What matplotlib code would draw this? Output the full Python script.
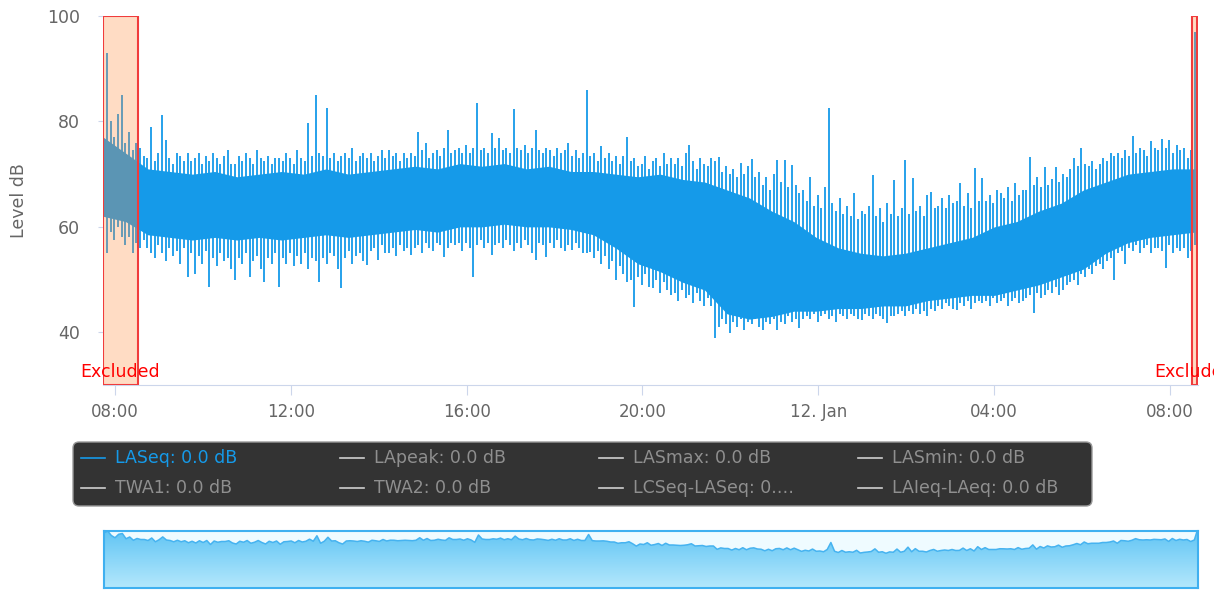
import numpy as np
import pandas as pd
import matplotlib
matplotlib.use("Agg")
import matplotlib.pyplot as plt
import matplotlib.dates as mdates
from matplotlib.patches import FancyBboxPatch
from matplotlib.colors import LinearSegmentedColormap
from matplotlib.transforms import Bbox

# LASeq extremes, one pair every 5 min starting 11 Jan 07:44 (one row = 1 hour)
t_start = "2024-01-11 07:44"
lev_hi = [86, 93, 80, 77, 81.5, 85, 76, 78, 74.5, 76, 75, 73.5,
          73, 79, 72.5, 74, 81.2, 76.5, 73, 72, 74, 73.5, 72.5, 74,
          72.5, 73, 74, 72, 73.5, 72.5, 74, 73, 72, 73.5, 74.5, 72,
          72, 73.5, 72.5, 74, 73, 72, 74.5, 73, 72.5, 73.5, 72, 73,
          73, 72.5, 74, 73, 72, 74.5, 73, 72.5, 79.7, 73.5, 85, 74,
          73.5, 82.5, 73, 74, 72.5, 73.5, 74, 73, 75, 72.5, 73.5, 74,
          73, 74, 72.5, 73.5, 74.5, 73, 74.6, 73.5, 74, 72.5, 74, 73,
          74, 73.5, 78, 74.5, 76, 73, 74, 74.5, 73.5, 75, 78.4, 74,
          74.5, 75, 74, 75.5, 74, 75, 83.5, 74.5, 75, 74, 77.8, 75,
          76.8, 74.5, 75, 74, 82.3, 75, 74.5, 75.5, 74, 75, 78.4, 74.5,
          74, 75, 74.5, 73.5, 75, 74, 74.5, 76, 73.5, 74.5, 73, 74,
          86, 73.5, 74, 72.5, 75.3, 73, 74, 72.5, 73.4, 72, 73.5, 77,
          72.5, 73, 71.5, 72, 73.5, 71, 72.5, 73, 71.5, 74, 72, 73,
          72, 73, 71.5, 74, 75.5, 72.5, 71, 73, 72, 71.5, 73, 72.5,
          73.2, 70.5, 71.5, 70, 71, 69.5, 72.1, 70, 71.5, 72.8, 69.5, 70.5,
          68, 69.5, 67, 70, 72.7, 68.5, 72.7, 67.5, 71.7, 68, 66.5, 67,
          65, 69.4, 64, 66, 63.5, 67.5, 82.5, 64.5, 63, 65.5, 62.5, 64,
          62, 66.4, 61.5, 63, 62.5, 64, 69.8, 62, 63.5, 61, 64.5, 62.5,
          68.9, 62, 63.5, 72.7, 62.5, 69.2, 63, 64, 62, 66, 66.6, 63.5,
          64, 65.5, 63.5, 66, 64.5, 65, 68.3, 64, 66.5, 63.5, 71.1, 65,
          69.2, 65, 66, 64.5, 67, 66.4, 65.5, 67.5, 65, 68.3, 66, 67,
          67, 73.2, 68, 69.5, 67.5, 71.3, 68, 69, 71.3, 68.5, 70, 69.5,
          71, 73, 71.5, 75, 72, 71.5, 72.5, 71, 72, 73, 72.5, 74,
          73.5, 74, 73, 74.5, 73.5, 77.2, 74, 75, 74.5, 73.5, 76.3, 75,
          74.5, 76.6, 75, 76.5, 74, 75.5, 74.5, 75, 73, 74.5, 97]
lev_lo = [58, 55, 59, 57.5, 60, 58, 56.5, 58, 55, 57, 56, 57.5,
          56, 55, 54, 56.5, 55, 53.5, 56, 54.5, 55.5, 53, 56, 50.5,
          55, 51, 54.5, 53, 55.5, 48.5, 54, 52.5, 55, 53.5, 54, 52,
          50, 54, 53, 55, 50.5, 53.5, 54.5, 52, 49.5, 54, 53, 55,
          48.5, 54, 53, 55, 52.5, 54.5, 53, 55, 52, 54, 53.5, 49.5,
          54, 53, 55, 54.5, 52, 48.4, 54, 55.5, 53, 54.5, 55, 53.5,
          52.7, 55.5, 56, 53.7, 56.5, 55, 55, 56, 54.5, 56.5, 55.5, 56,
          54.6, 56, 56.5, 55, 57, 56, 55.5, 57, 56.5, 54.2, 56, 57,
          56.5, 57, 55.5, 57, 56, 50.4, 56.5, 57.5, 56, 57, 54.6, 56.5,
          57, 56, 57.5, 56.5, 55.5, 57, 56, 57.5, 56.5, 55, 53.7, 57,
          56.5, 54.2, 57, 56, 57.5, 56, 55.5, 56.5, 55.6, 57, 56, 55,
          55, 55.2, 54, 55.5, 53, 54.5, 52, 53.5, 50, 52.5, 51, 49.5,
          50, 44.8, 50.5, 49, 51, 48.5, 48.4, 50, 47.5, 49.5, 48, 47,
          47.5, 46, 48, 46.5, 47, 45.5, 47.5, 46, 45, 46.5, 45, 38.9,
          41, 42.5, 41.5, 39.8, 42, 41, 42.5, 40.5, 42, 41.5, 42.5, 41,
          40.4, 42, 41.5, 42.5, 40.4, 42, 41.5, 43, 42, 42.5, 40.8, 42.5,
          43, 42.5, 43.5, 42, 43, 43.5, 42.5, 43, 42, 43.5, 43, 42.5,
          43.5, 43, 42.5, 42.3, 43.5, 43, 42.5, 43.5, 43, 42.5, 41.7, 43,
          43, 43.5, 44, 43, 44, 43.5, 44.5, 43.5, 44, 43, 44.5, 44,
          45, 44.5, 45.5, 45, 44.5, 44.2, 45.5, 45, 46, 44.5, 45.5, 46,
          45.5, 46, 45, 46.5, 45.5, 46, 46.5, 45, 46, 46.5, 45.5, 46,
          46.5, 47, 43.6, 47.5, 46.5, 47, 48, 47.5, 48.5, 47, 48, 49,
          49.5, 50, 49, 51, 50.5, 52, 51, 52.5, 53, 52, 53.5, 54,
          50, 55, 55.5, 53, 56, 55.5, 56.5, 55, 56, 56.5, 55, 56,
          56, 55.5, 52.2, 56.5, 55, 56, 55.5, 56, 54, 55.5, 56.5]

# dense part of the trace, about every 30 min over the same span
core_hi = [77, 74, 71, 70.5, 70, 70.5, 69.5, 70, 70.5, 70, 71, 70, 70.5,
           71, 71.5, 71, 72, 71.5, 72, 71, 71.5, 70.5, 70.5, 70, 69.5,
           70, 69, 68.5, 67, 65.5, 63, 61, 58, 56, 55, 54.5, 55, 56, 57,
           58, 60, 61, 63, 64.5, 67, 68.5, 70, 70.5, 71, 71]
core_lo = [62, 61, 58.5, 58, 57.5, 58, 57.5, 58, 57.5, 58, 58.5, 58, 58.5,
           59, 59.5, 59, 60, 60, 60.5, 60, 60, 59.5, 58.5, 56, 53, 51.5,
           49.5, 48, 43.5, 42.5, 43, 44, 44, 44.5, 44.5, 45, 45, 46, 46.5,
           47, 47, 48, 49, 50.5, 52, 55, 57, 58, 58.5, 59]

excluded = [("2024-01-11 07:44", "2024-01-11 08:31"),
            ("2024-01-12 08:30", "2024-01-12 08:37")]

yticks = [40, 60, 80, 100]
xtick_times = ["2024-01-11 08:00", "2024-01-11 12:00", "2024-01-11 16:00",
               "2024-01-11 20:00", "2024-01-12 00:00", "2024-01-12 04:00",
               "2024-01-12 08:00"]
xtick_labels = ["08:00", "12:00", "16:00", "20:00", "12. Jan", "04:00", "08:00"]
legend_labels = ["LASeq: 0.0 dB", "LApeak: 0.0 dB", "LASmax: 0.0 dB", "LASmin: 0.0 dB",
                 "TWA1: 0.0 dB", "TWA2: 0.0 dB", "LCSeq-LASeq: 0.\u2026", "LAIeq-LAeq: 0.0 dB"]

blue = "#159ae9"
axcol = "#ccd6eb"
txtcol = "#666666"

times = pd.date_range(t_start, periods=len(lev_hi), freq="5min")
core_times = pd.date_range(times[0], times[-1], periods=len(core_hi))
x0 = mdates.date2num(pd.Timestamp("2024-01-11 07:43:30"))
x1 = mdates.date2num(pd.Timestamp("2024-01-12 08:38:10"))

W, H = 1225, 592
fig = plt.figure(figsize=(W / 100, H / 100), dpi=100)

# main chart
ax = fig.add_axes([102.9 / W, 1 - 385 / H, 1095 / W, 369 / H])
ax.fill_between(core_times, core_lo, core_hi, color=blue, lw=0, zorder=2)
ax.vlines(times, lev_lo, lev_hi, color=blue, lw=1.3, zorder=3)
ax.set_xlim(x0, x1)
ax.set_ylim(30, 100)

for a, b in excluded:
    ax.axvspan(pd.Timestamp(a), pd.Timestamp(b), facecolor=(1, 0.55, 0.235, 0.3),
               edgecolor="#f03c3c", lw=1.5, zorder=5)
    mid = pd.Timestamp(a) + (pd.Timestamp(b) - pd.Timestamp(a)) / 2
    t = ax.text(mid, 31.5, "Excluded", color="red", ha="center", va="baseline",
                fontsize=12.5, zorder=6)
    # the right-hand label is cut at the chart edge, as in the original
    t.set_clip_path(None)
    t.set_clip_box(Bbox.from_extents(0, 0, 1214, H))
    t.set_clip_on(True)

for s in ["top", "right", "left"]:
    ax.spines[s].set_visible(False)
ax.spines["bottom"].set_color(axcol)
ax.set_yticks(yticks)
ax.set_xticks(mdates.date2num(pd.to_datetime(xtick_times)))
ax.set_xticklabels(xtick_labels)
ax.tick_params(axis="y", colors=axcol, labelcolor=txtcol, length=3.6, width=0.8,
               pad=13, labelsize=12.5)
ax.tick_params(axis="x", colors=axcol, labelcolor=txtcol, length=7.2, width=0.8,
               pad=6, labelsize=12)
ax.set_ylabel("Level dB", color=txtcol, fontsize=12.5)
ax.yaxis.set_label_coords(-75 / 1095, 0.5)

# navigator
nav = fig.add_axes([104 / W, 1 - 588 / H, 1094 / W, 57 / H])
nav_mid = (np.array(lev_hi) + np.array(lev_lo)) / 2
nav.set_facecolor("#effbff")
poly = nav.fill_between(times, 0, nav_mid, facecolor="none", lw=0)
cmap = LinearSegmentedColormap.from_list("nav", ["#62c5f4", "#b4e8fc"])
im = nav.imshow(np.linspace(0, 1, 100).reshape(-1, 1), cmap=cmap, aspect="auto",
                extent=(x0, x1, 17, 74), origin="upper", zorder=1)
im.set_clip_path(poly.get_paths()[0], transform=nav.transData)
nav.plot(times, nav_mid, color="#46b3f0", lw=1.1, zorder=2)
nav.set_xlim(mdates.date2num(times[0]), mdates.date2num(times[-1]))
nav.set_ylim(17, 74)
nav.set_xticks([])
nav.set_yticks([])
for s in nav.spines.values():
    s.set_color("#3fb0f0")
    s.set_linewidth(1.5)

# legend (pixel coordinates)
ov = fig.add_axes([0, 0, 1, 1])
ov.set_xlim(0, W)
ov.set_ylim(H, 0)
ov.axis("off")
ov.add_patch(FancyBboxPatch((73, 442), 1019, 64, boxstyle="round,pad=0,rounding_size=6",
                            facecolor="#333333", edgecolor="#9a9a9a", lw=1))
for i, lab in enumerate(legend_labels):
    col, row = i % 4, i // 4
    lx = 81 + col * 259
    ly = 458 + row * 30
    c_line = blue if i == 0 else "#cfcfcf"
    c_txt = blue if i == 0 else "#8f8f8f"
    ov.plot([lx, lx + 24], [ly, ly], color=c_line, lw=1.2)
    ov.text(lx + 34, ly, lab, color=c_txt, fontsize=12.5, va="center", ha="left")

fig.savefig("out.png", dpi=100)
